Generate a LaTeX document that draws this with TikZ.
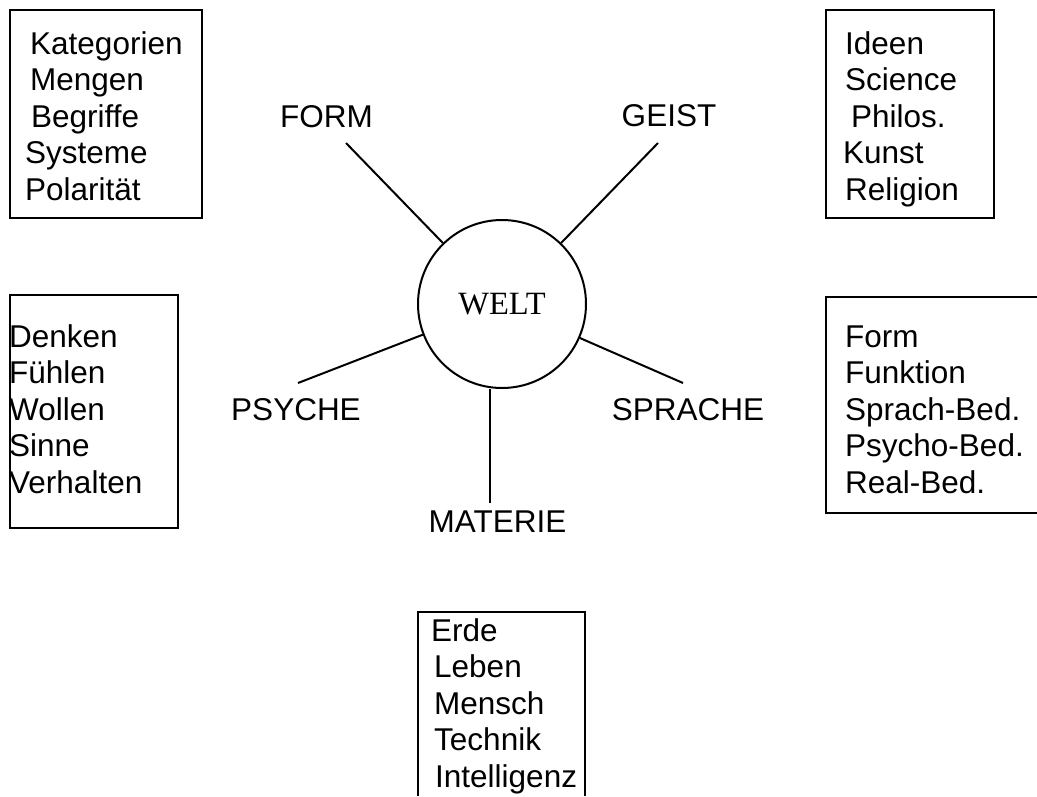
\documentclass[tikz,border=0pt]{standalone}
\usepackage{fontspec}
\setmainfont{Liberation Sans}
\newfontfamily\weltfont{Liberation Serif}
\usetikzlibrary{calc}

\begin{document}
\begin{tikzpicture}[x=1pt, y=-1pt,
	kasten/.style={line width=1.5pt},
	strahl/.style={line width=2pt},
	liste/.style={anchor=base west, align=left, inner sep=0pt, font=\fontsize{31.5}{36.5}\selectfont},
	wort/.style={anchor=base, inner sep=0pt, font=\fontsize{31.5}{36.5}\selectfont}]
	\useasboundingbox (0,0) rectangle (1037,796);

	% Mitte
	\node[circle, draw, line width=2pt, minimum size=168pt, inner sep=0pt, font=\weltfont\fontsize{32.5}{38}\selectfont] (welt) at (502,304) {WELT};

	\node[wort] (form) at (326.5,127) {FORM};
	\node[wort] (geist) at (669,126) {GEIST};
	\node[wort] (psyche) at (296,420) {PSYCHE};
	\node[wort] (sprache) at (688,420) {SPRACHE};
	\node[wort] (materie) at (497.5,532) {MATERIE};

	\coordinate (F) at (346,143);
	\coordinate (G) at (658,143);
	\coordinate (P) at (298,383);
	\coordinate (S) at (683,383);
	\coordinate (M) at (490,503);

	\draw[strahl] (welt) -- (F);
	\draw[strahl] (welt) -- (G);
	\draw[strahl] (welt) -- (P);
	\draw[strahl] (welt) -- (S);
	\draw[strahl] (M) -- (M |- welt.south);

	% Kaesten (Anker: Grundlinie der letzten Zeile)
	\draw[kasten] (10,10) rectangle (202,218);
	\node[liste] (kategorien) at (25,200) {\hspace*{5pt}Kategorien\\ \hspace*{5pt}Mengen\\ \hspace*{6pt}Begriffe\\ Systeme\\ Polarität};

	\draw[kasten] (826,10) rectangle (994,218);
	\node[liste] (ideen) at (843,200) {\hspace*{2pt}Ideen\\ \hspace*{2pt}Science\\ \hspace*{8pt}Philos.\\ Kunst\\ \hspace*{2pt}Religion};

	\draw[kasten] (10,295) rectangle (178,528);
	\node[liste] (denken) at (9,493) {Denken\\ Fühlen\\ Wollen\\ Sinne\\ Verhalten};

	\draw[kasten] (1037,297) -| (826,513) -- (1037,513);
	\node[liste] (formliste) at (845,493) {Form\\ Funktion\\ Sprach-Bed.\\ Psycho-Bed.\\ Real-Bed.};

	\draw[kasten] (418,796) |- (585,612) -- (585,796);
	\node[liste] (erde) at (431,787) {Erde\\ \hspace*{3pt}Leben\\ \hspace*{3pt}Mensch\\ \hspace*{3pt}Technik\\ \hspace*{4pt}Intelligenz};
\end{tikzpicture}
\end{document}
